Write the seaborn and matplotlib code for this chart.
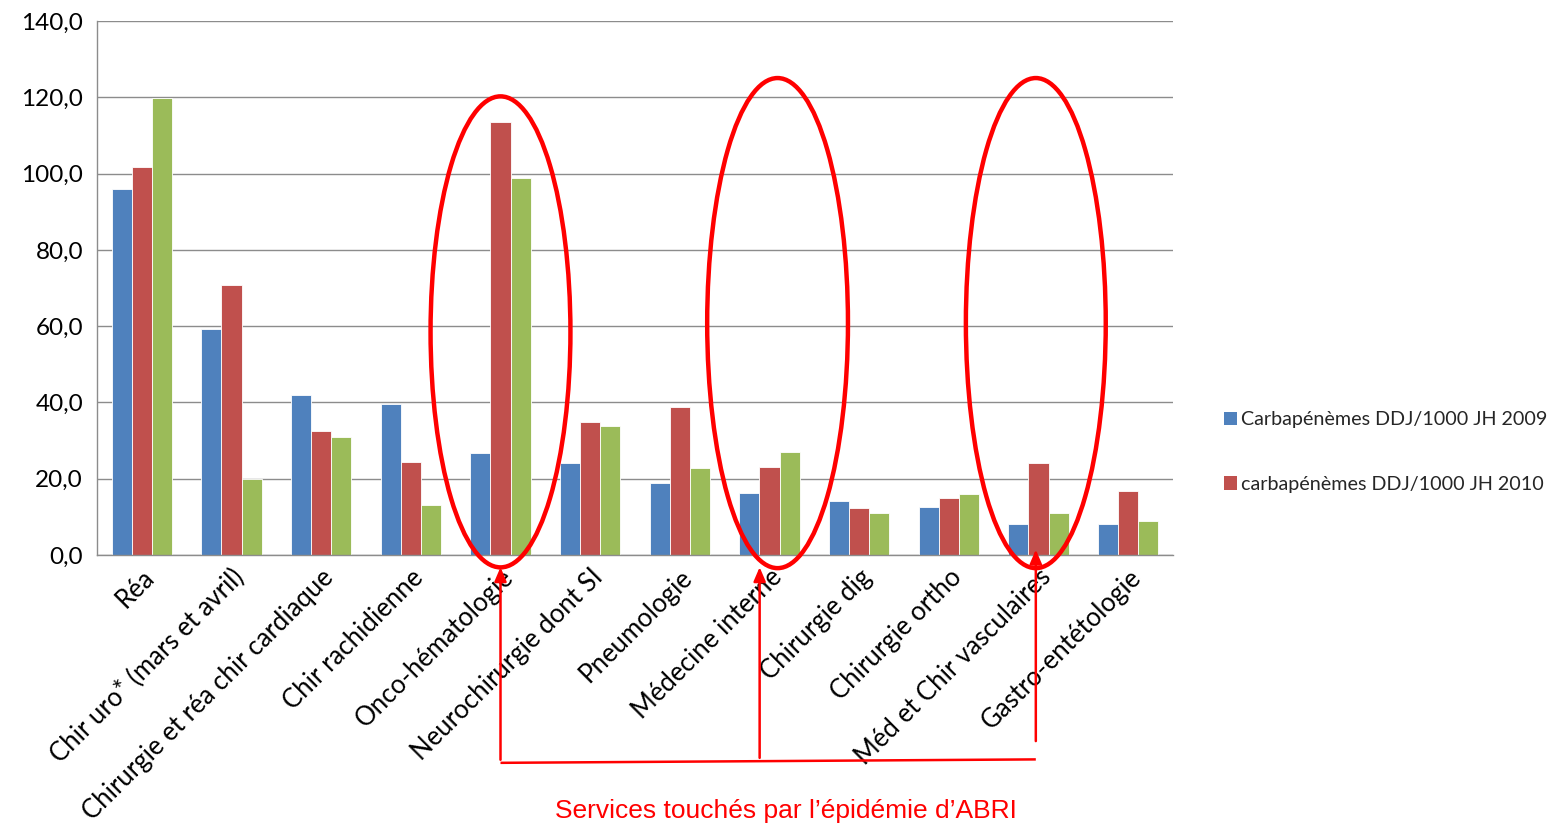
import matplotlib
matplotlib.use("Agg")
import matplotlib.pyplot as plt
from matplotlib.patches import Ellipse, Patch
from matplotlib.ticker import FuncFormatter, MultipleLocator
import seaborn as sns
import pandas as pd

services = [
    "Réa",
    "Chir uro* (mars et avril)",
    "Chirurgie et réa chir cardiaque",
    "Chir rachidienne",
    "Onco-hématologie",
    "Neurochirurgie dont SI",
    "Pneumologie",
    "Médecine interne",
    "Chirurgie dig",
    "Chirurgie ortho",
    "Méd et Chir vasculaires",
    "Gastro-entétologie",
]
ddj_2009 = [96.0, 59.3, 42.0, 39.6, 26.7, 24.2, 19.0, 16.3, 14.2, 12.5, 8.1, 8.1]
ddj_2010 = [101.7, 70.8, 32.5, 24.4, 113.5, 34.8, 38.8, 23.1, 12.2, 14.9, 24.2, 16.7]
ddj_2011 = [119.8, 20.0, 30.9, 13.1, 98.8, 33.9, 22.9, 27.0, 10.9, 16.0, 10.9, 8.9]

series_names = [
    "Carbapénèmes DDJ/1000 JH 2009",
    "carbapénèmes DDJ/1000 JH 2010",
    "carbapénèmes DDJ/1000 JH 2011",
]
series_colors = ["#4F81BD", "#C0504D", "#9BBB59"]

# services hit by the ABRI outbreak
outbreak_services = ["Onco-hématologie", "Médecine interne", "Méd et Chir vasculaires"]

rows = []
for name, values in zip(series_names, [ddj_2009, ddj_2010, ddj_2011]):
    for svc, v in zip(services, values):
        rows.append({"Service": svc, "Série": name, "Valeur": v})
df = pd.DataFrame(rows)

sns.set_theme(style="white")
plt.rcParams["font.family"] = ["Lato", "DejaVu Sans"]

fig = plt.figure(figsize=(15.52, 8.25), dpi=100)
ax = fig.add_axes([0.0625, 0.3273, 0.6933, 0.6472])

sns.barplot(
    data=df, x="Service", y="Valeur", hue="Série", order=services,
    hue_order=series_names, palette=series_colors, width=0.67,
    edgecolor="white", linewidth=0.6, saturation=1, ax=ax, legend=False,
)

ax.set_ylim(0, 140)
ax.set_xlim(-0.5, len(services) - 0.5)
ax.yaxis.set_major_locator(MultipleLocator(20))
ax.yaxis.set_major_formatter(FuncFormatter(lambda v, _: f"{v:.1f}".replace(".", ",")))
ax.grid(axis="y", color="#8c8c8c", linewidth=1.0)
ax.set_axisbelow(True)
for side in ["top", "right"]:
    ax.spines[side].set_visible(False)
for side in ["left", "bottom"]:
    ax.spines[side].set_color("#8c8c8c")
    ax.spines[side].set_linewidth(1.0)
ax.tick_params(axis="y", direction="out", length=6, color="#8c8c8c",
               labelsize=17.5, labelcolor="black", pad=4)
ax.tick_params(axis="x", length=0, labelsize=18.5, labelcolor="black", pad=7)
ax.set_xlabel("")
ax.set_ylabel("")
plt.setp(ax.get_xticklabels(), rotation=45, ha="right", rotation_mode="anchor")

# legend (two first series)
handles = [Patch(facecolor=c, edgecolor="none") for c in series_colors[:2]]
fig.legend(handles, series_names[:2], loc="center left",
           bbox_to_anchor=(0.777, 0.452), frameon=False, fontsize=14.2,
           handlelength=0.7, handleheight=0.7, handletextpad=0.2,
           labelspacing=2.4)

# red ellipses around the outbreak services
red = "#FF0000"
ellipse_geom = {
    "Onco-hématologie": (0.0, 58.5, 1.56, 123.5),
    "Médecine interne": (0.09, 60.8, 1.57, 128.5),
    "Méd et Chir vasculaires": (-0.03, 60.8, 1.56, 128.5),
}
for svc in outbreak_services:
    dx, cy, w, h = ellipse_geom[svc]
    cx = services.index(svc) + dx
    ax.add_patch(Ellipse((cx, cy), w, h, fill=False, edgecolor=red,
                         linewidth=3.2, clip_on=False, zorder=5))

# arrows from the caption line up to each circled group
arrow_specs = [
    (services.index("Onco-hématologie"), -53.7, -3.2),
    (services.index("Médecine interne") - 0.11, -53.2, -3.2),
    (services.index("Méd et Chir vasculaires") - 0.03, -48.8, 1.4),
]
for x, y0, y1 in arrow_specs:
    ax.annotate("", xy=(x, y1), xytext=(x, y0), xycoords="data",
                annotation_clip=False,
                arrowprops=dict(arrowstyle="-|>,head_length=0.7,head_width=0.3",
                                color=red, linewidth=1.8, shrinkA=0, shrinkB=0))
ax.plot([arrow_specs[0][0], arrow_specs[2][0]], [-54.5, -53.6], color=red,
        linewidth=1.8, clip_on=False, solid_capstyle="butt")

fig.text(0.5064, 0.017, "Services touchés par l’épidémie d’ABRI", color=red,
         fontsize=19, ha="center", va="center", family=["Liberation Sans", "DejaVu Sans"])

fig.savefig("out.png", dpi=100)
